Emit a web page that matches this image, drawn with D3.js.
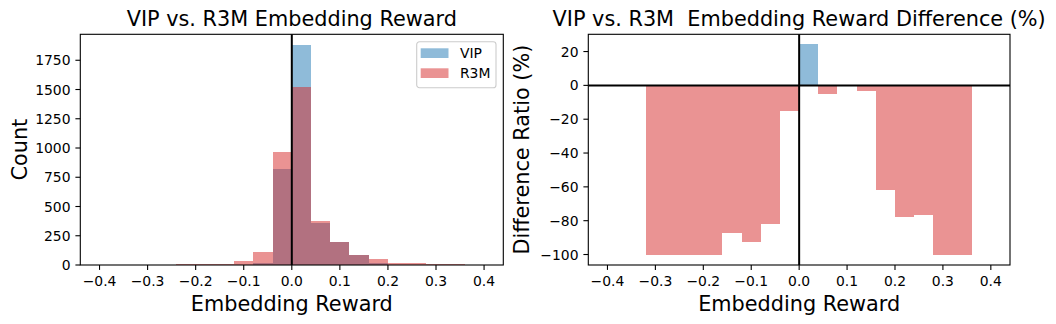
<!DOCTYPE html>
<html>
<head>
<meta charset="utf-8">
<script src="https://cdn.jsdelivr.net/npm/d3@7"></script>
<style>
  body { margin: 0; background: #fff; }
  svg { display: block; font-family: "DejaVu Sans", sans-serif; }
</style>
</head>
<body>
<svg id="chart" width="1056" height="324"></svg>
<script>
'use strict';

// left edge of every histogram bin (bin width 0.04)
var binLeft = [-0.40, -0.36, -0.32, -0.28, -0.24, -0.20, -0.16, -0.12, -0.08, -0.04,
               0.00, 0.04, 0.08, 0.12, 0.16, 0.20, 0.24, 0.28, 0.32, 0.36];
var binWidth = 0.04;

// counts
var vipCounts = [0, 0, 0, 0, 0, 0, 1, 3, 21, 822, 1878, 358, 199, 85, 20, 4, 4, 0, 0, 0];
var r3mCounts = [0, 0, 1, 1, 8, 8, 8, 37, 114, 965, 1520, 376, 199, 88, 51, 18, 17, 8, 8, 0];

// difference ratio (%) (null = no bar)
var diffRatio = [null, null, -100, -100, -100, -100, -87, -92.5, -82, -15,
                 24.4, -5, 0, -3.4, -62, -78, -76.7, -100, -100, null];

var xTicks = [-0.4, -0.3, -0.2, -0.1, 0.0, 0.1, 0.2, 0.3, 0.4];
var countTicks = [0, 250, 500, 750, 1000, 1250, 1500, 1750];
var ratioTicks = [-100, -80, -60, -40, -20, 0, 20];

var seriesNames = ["VIP", "R3M"];

var blue = "#1f77b4", red = "#d62728";

var svg = d3.select("#chart");

var plotTop = 34.3, plotBottom = 265;

// draw axes box, ticks and labels for one panel
var drawFrame = function(g, x, y, yTicks, yFmt, title, xLabel, yLabel, yLabelX) {
  var xr = x.range();

  // x ticks
  var xt = g.append("g").attr("transform", "translate(0," + plotBottom + ")");
  xt.selectAll("line").data(xTicks).enter().append("line")
    .attr("x1", function(d) { return x(d); }).attr("x2", function(d) { return x(d); })
    .attr("y1", 0).attr("y2", 4.9)
    .attr("stroke", "#000").attr("stroke-width", 1.1);
  xt.selectAll("text").data(xTicks).enter().append("text")
    .attr("x", function(d) { return x(d); })
    .attr("y", 20.7)
    .attr("text-anchor", "middle")
    .attr("font-size", "13.9px")
    .text(d3.format(".1f"));

  // y ticks
  var yt = g.append("g").attr("transform", "translate(" + xr[0] + ",0)");
  yt.selectAll("line").data(yTicks).enter().append("line")
    .attr("x1", -4.9).attr("x2", 0)
    .attr("y1", function(d) { return y(d); }).attr("y2", function(d) { return y(d); })
    .attr("stroke", "#000").attr("stroke-width", 1.1);
  yt.selectAll("text").data(yTicks).enter().append("text")
    .attr("x", -9.8)
    .attr("y", function(d) { return y(d); })
    .attr("dy", "0.36em")
    .attr("text-anchor", "end")
    .attr("font-size", "13.9px")
    .text(yFmt);

  // spines
  g.append("rect")
    .attr("x", xr[0]).attr("y", plotTop)
    .attr("width", xr[1] - xr[0]).attr("height", plotBottom - plotTop)
    .attr("fill", "none").attr("stroke", "#000").attr("stroke-width", 1.1);

  var cx = (xr[0] + xr[1]) / 2;
  g.append("text")
    .attr("x", cx).attr("y", 26)
    .attr("text-anchor", "middle")
    .attr("font-size", "20.8px")
    .style("white-space", "pre")
    .text(title);
  g.append("text")
    .attr("x", cx).attr("y", 310.7)
    .attr("text-anchor", "middle")
    .attr("font-size", "20.8px")
    .text(xLabel);
  g.append("text")
    .attr("transform", "translate(" + yLabelX + "," + ((plotTop + plotBottom) / 2) + ") rotate(-90)")
    .attr("text-anchor", "middle")
    .attr("font-size", "20.8px")
    .text(yLabel);
};

// ---- left panel: overlapping histograms ----
var xL = d3.scaleLinear().domain([-0.44, 0.44]).range([80.3, 503.3]);
var yL = d3.scaleLinear().domain([0, d3.max(vipCounts.concat(r3mCounts)) * 1.05]).range([plotBottom, plotTop]);

var left = svg.append("g");

var histData = [vipCounts, r3mCounts];
var histColor = [blue, red];

histData.forEach(function(counts, s) {
  left.append("g").selectAll("rect")
    .data(binLeft)
    .enter()
      .append("rect")
      .attr("x", function(d) { return xL(d); })
      .attr("width", function(d) { return xL(d + binWidth) - xL(d); })
      .attr("y", function(d, i) { return yL(counts[i]); })
      .attr("height", function(d, i) { return yL(0) - yL(counts[i]); })
      .attr("fill", histColor[s])
      .attr("fill-opacity", 0.5)
      .attr("shape-rendering", "crispEdges");
});

left.append("line")
  .attr("x1", xL(0)).attr("x2", xL(0))
  .attr("y1", plotTop).attr("y2", plotBottom)
  .attr("stroke", "#000").attr("stroke-width", 2);

drawFrame(left, xL, yL, countTicks, d3.format("d"),
  "VIP vs. R3M Embedding Reward", "Embedding Reward", "Count", 26.7);

// legend
var legend = left.append("g").attr("transform", "translate(416.7,41.7)");
legend.append("rect")
  .attr("width", 79.3).attr("height", 46).attr("rx", 2.8)
  .attr("fill", "#fff").attr("fill-opacity", 0.8)
  .attr("stroke", "#cccccc").attr("stroke-width", 1.1);
seriesNames.forEach(function(name, i) {
  legend.append("rect")
    .attr("x", 4).attr("y", 6.6 + i * 20)
    .attr("width", 27.8).attr("height", 9.7)
    .attr("fill", histColor[i]).attr("fill-opacity", 0.5);
  legend.append("text")
    .attr("x", 43.2).attr("y", 16 + i * 20.3)
    .attr("font-size", "13.9px")
    .text(name);
});

// ---- right panel: difference ratio ----
var xR = d3.scaleLinear().domain([-0.44, 0.44]).range([588.3, 1010]);
var yR = d3.scaleLinear().domain([-106.2, 30.2]).range([plotBottom, plotTop]);

var right = svg.append("g");

// pair each bin with its ratio, skip empty bins
var ratioBars = binLeft
  .map(function(b, i) { return { left: b, value: diffRatio[i] }; })
  .filter(function(d) { return d.value !== null; });

right.append("g").selectAll("rect")
  .data(ratioBars)
  .enter()
    .append("rect")
    .attr("x", function(d) { return xR(d.left); })
    .attr("width", function(d) { return xR(d.left + binWidth) - xR(d.left); })
    .attr("y", function(d) { return yR(Math.max(0, d.value)); })
    .attr("height", function(d) { return Math.abs(yR(d.value) - yR(0)); })
    .attr("fill", function(d) { return d.value >= 0 ? blue : red; })
    .attr("fill-opacity", 0.5)
    .attr("shape-rendering", "crispEdges");

right.append("line")
  .attr("x1", xR.range()[0]).attr("x2", xR.range()[1])
  .attr("y1", yR(0)).attr("y2", yR(0))
  .attr("stroke", "#000").attr("stroke-width", 2);
right.append("line")
  .attr("x1", xR(0)).attr("x2", xR(0))
  .attr("y1", plotTop).attr("y2", plotBottom)
  .attr("stroke", "#000").attr("stroke-width", 2);

drawFrame(right, xR, yR, ratioTicks, d3.format("d"),
  "VIP vs. R3M  Embedding Reward Difference (%)", "Embedding Reward", "Difference Ratio (%)", 529.3);
</script>
</body>
</html>
